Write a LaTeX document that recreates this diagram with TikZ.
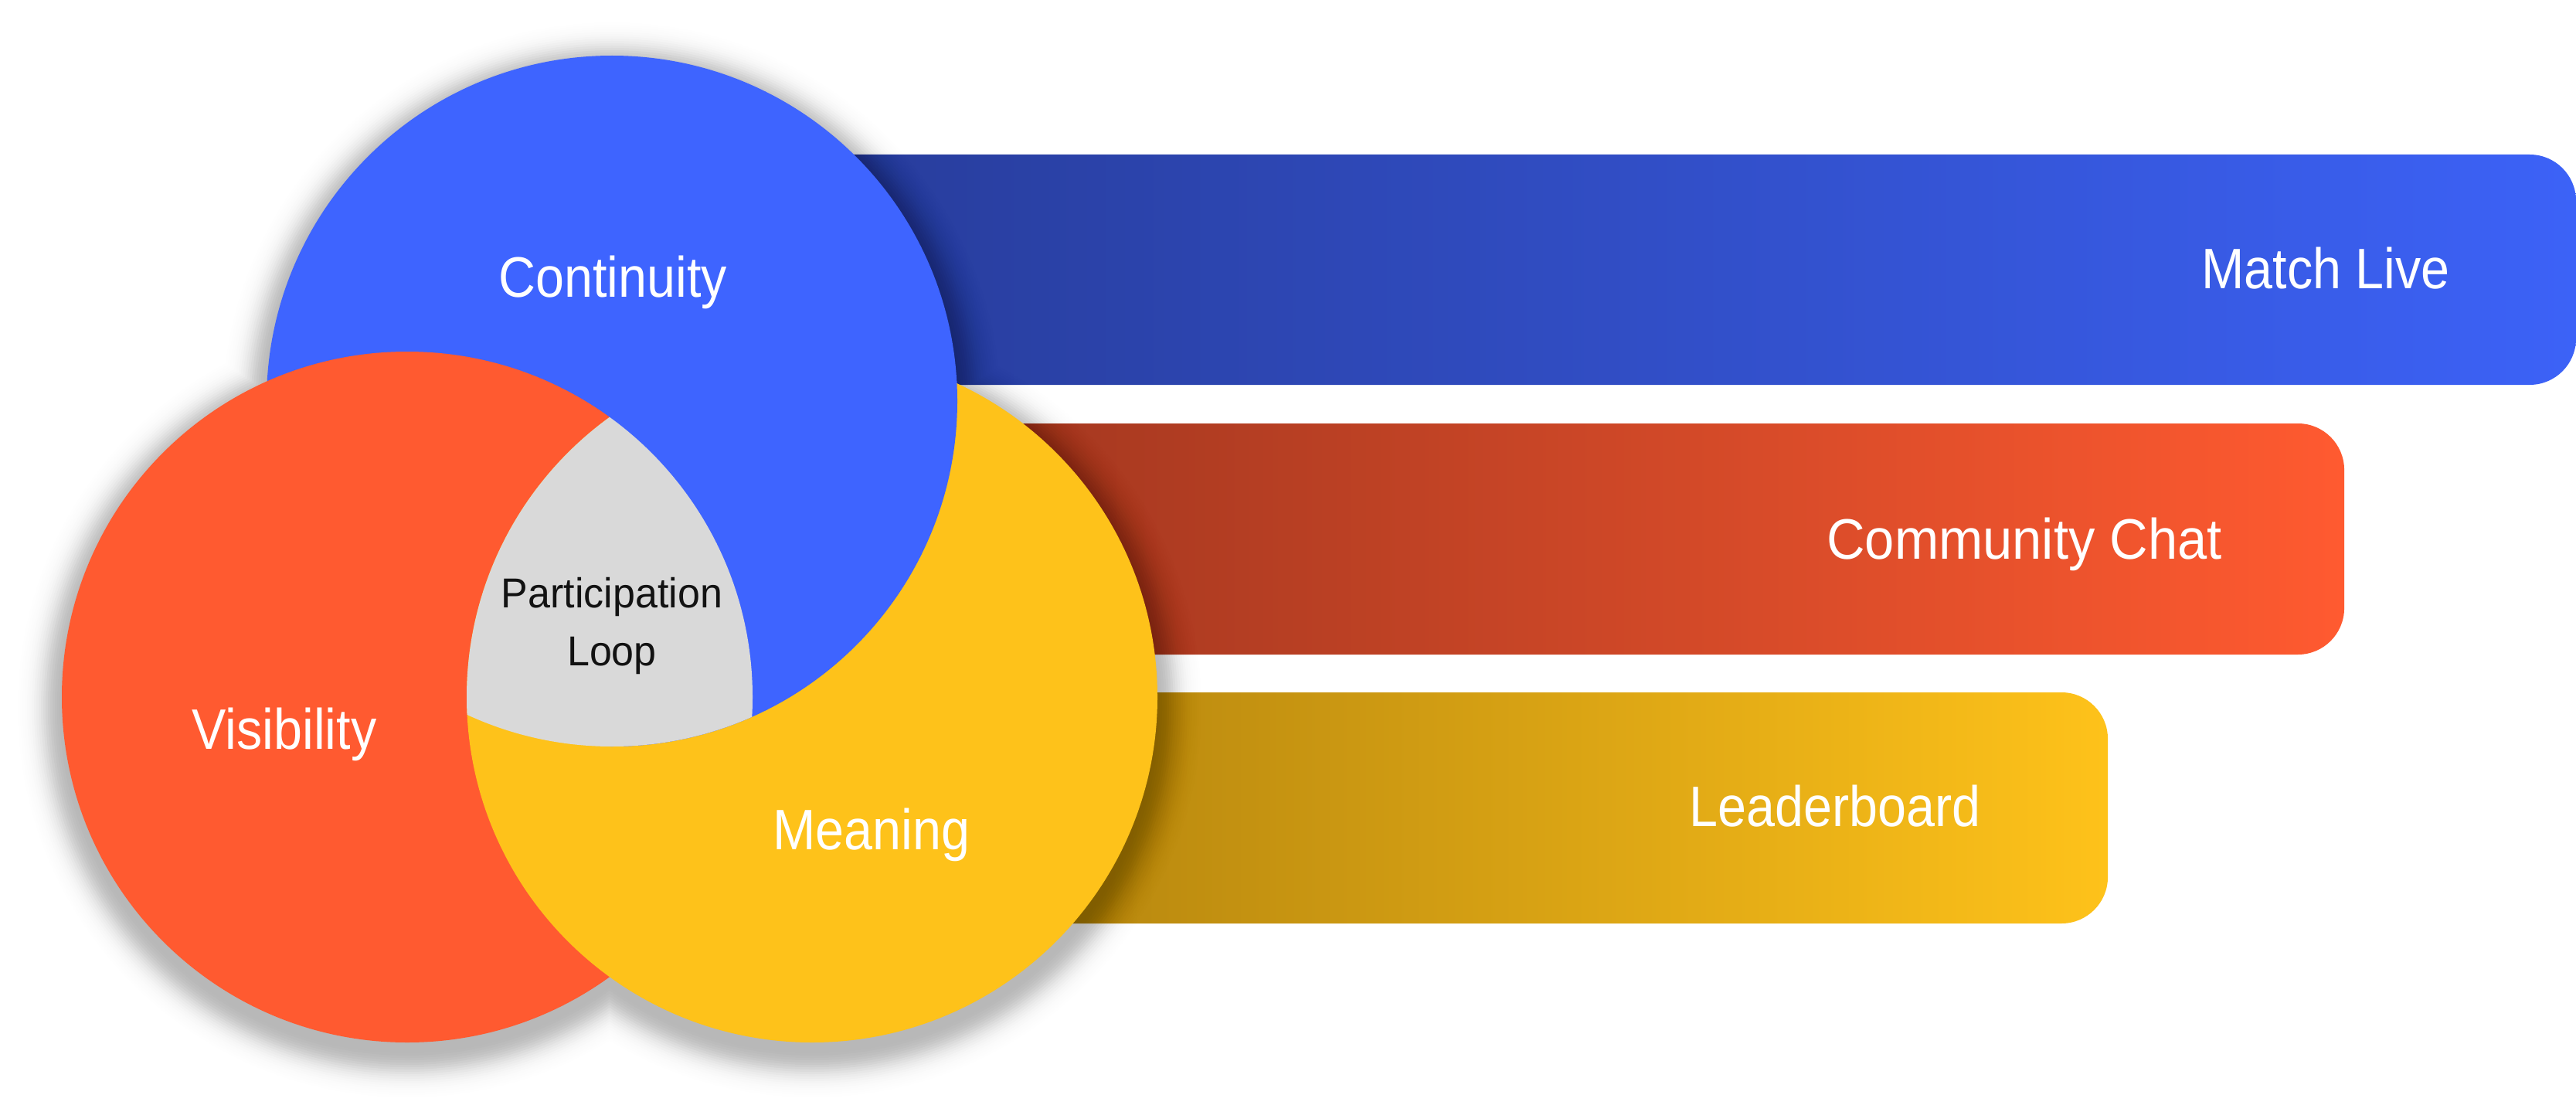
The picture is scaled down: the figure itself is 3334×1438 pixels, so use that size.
\documentclass[tikz,border=0pt]{standalone}
\usepackage{fontspec}
\setmainfont{Liberation Sans}
\usepackage{graphicx}
\definecolor{cB}{HTML}{3E64FF}
\definecolor{cR}{HTML}{FF5A30}
\definecolor{cY}{HTML}{FEC21A}
\definecolor{cG}{HTML}{D9D9D9}
\definecolor{bBl}{HTML}{283D9C}
\definecolor{bBr}{HTML}{3C62F7}
\definecolor{bRl}{HTML}{A53820}
\definecolor{bRr}{HTML}{FF5A30}
\definecolor{bYl}{HTML}{B8880F}
\definecolor{bYr}{HTML}{FEC21A}
\tikzset{
  lbl/.style={text=white, font=\fontsize{21}{25}\selectfont, inner sep=0pt, anchor=base},
  inlbl/.style={text=black!93, font=\fontsize{15.4}{21.6}\selectfont, inner sep=0pt, align=center, anchor=center}
}
\begin{document}
\begin{tikzpicture}[x=0.01cm,y=0.01cm]
\useasboundingbox (0,0) rectangle (3334,1438);
\fill[white] (0,0) rectangle (3334,1438);
% bars
\shade[left color=bBl, right color=bBr] (1100,940) -- (3274,940) arc[start angle=-90,end angle=0,radius=60] -- (3334,1178) arc[start angle=0,end angle=90,radius=60] -- (1100,1238) -- cycle;
\shade[left color=bRl, right color=bRr] (1320,591) -- (2974,591) arc[start angle=-90,end angle=0,radius=60] -- (3034,830) arc[start angle=0,end angle=90,radius=60] -- (1320,890) -- cycle;
\shade[left color=bYl, right color=bYr] (1385,243) -- (2668,243) arc[start angle=-90,end angle=0,radius=60] -- (2728,482) arc[start angle=0,end angle=90,radius=60] -- (1385,542) -- cycle;
% soft shadows of the circles (layered translucent rings)
\foreach \k in {20,19,...,0}{
  \pgfmathsetmacro{\dd}{3*\k}
  \pgfmathsetmacro{\ta}{0.26*exp(0-(\dd*\dd)/900)}
  \pgfmathsetmacro{\tb}{0.26*exp(0-((\dd+3)*(\dd+3))/900)}
  \pgfmathsetmacro{\al}{1-(1-\ta)/(1-\tb)}
  \fill[black, fill opacity=\al] (792,905) circle[radius={447+\dd}] (527,522) circle[radius={447+\dd}] (1051,522) circle[radius={447+\dd}];
}
% circles
\fill[cB] (792,919) circle[radius=447];
\fill[cR] (527,536) circle[radius=447];
\fill[cY] (1051,536) circle[radius=447];
% blue over the blue/yellow overlap
\begin{scope}
  \clip (792,919) circle[radius=447];
  \clip (789,0) rectangle (1700,1438);
  \fill[cB] (1051,536) circle[radius=450];
\end{scope}
% grey centre (all three circles)
\begin{scope}
  \clip (527,536) circle[radius=447];
  \clip (792,919) circle[radius=447];
  \fill[cG] (1051,536) circle[radius=447];
\end{scope}
% labels
\node[lbl] (tcont) at (793,1054) {\scalebox{0.9}[1]{Continuity}};
\node[lbl] (tvis) at (368,469) {\scalebox{0.9}[1]{Visibility}};
\node[lbl] (tmean) at (1128,339) {\scalebox{0.9}[1]{Meaning}};
\node[inlbl] (tloop) at (792,628) {\scalebox{0.96}[1]{Participation}\\\scalebox{0.96}[1]{Loop}};
\node[lbl] (tmatch) at (3010,1065) {\scalebox{0.9}[1]{Match Live}};
\node[lbl] (tchat) at (2620,715) {\scalebox{0.93}[1]{Community Chat}};
\node[lbl] (tlead) at (2375,369) {\scalebox{0.9}[1]{Leaderboard}};
\end{tikzpicture}
\end{document}
